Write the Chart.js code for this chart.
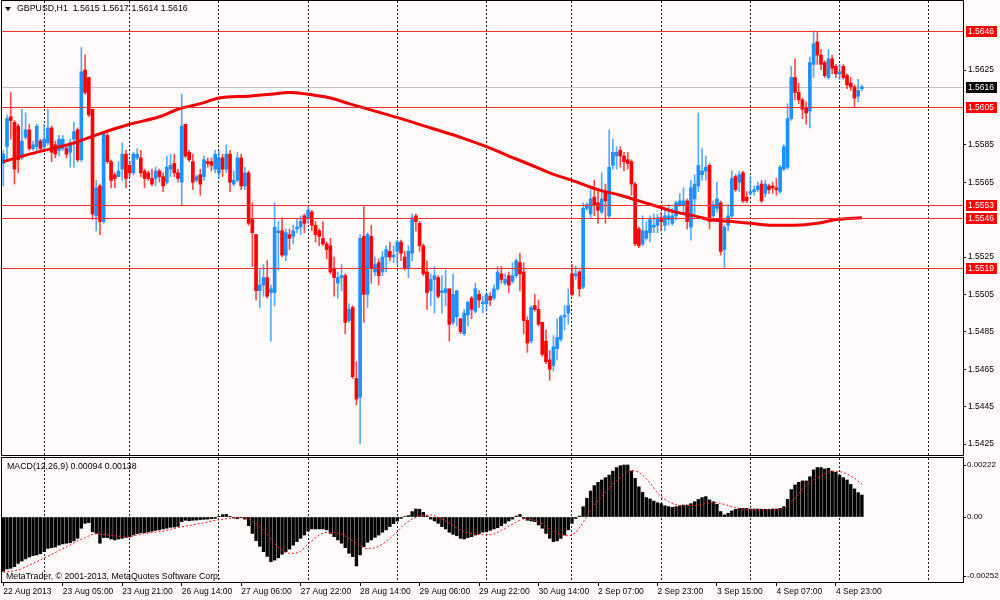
<!DOCTYPE html>
<html>
<head>
<meta charset="utf-8">
<title>GBPUSD,H1</title>
<script src="https://cdn.jsdelivr.net/npm/chart.js@4.4.1/dist/chart.umd.min.js"></script>
<style>
  html, body { margin: 0; padding: 0; background: #fffafa; }
  #pane1 { position: absolute; left: 0; top: 0; width: 1000px; height: 457px; }
  #pane2 { position: absolute; left: 0; top: 457px; width: 1000px; height: 143px; }
</style>
</head>
<body>
<div id="pane1"><canvas id="priceChart"></canvas></div>
<div id="pane2"><canvas id="macdChart"></canvas></div>
<script>
// --- Data (bar 0 = 22 Aug 2013 13:00, H1) ---
const opens = [
  1.5575,1.5584,1.5600,1.5597,1.5595,1.5578,1.5589,1.5593,1.5583,1.5584,1.5587,1.5584,
  1.5586,1.5594,1.5585,1.5582,1.5583,1.5583,1.5581,1.5588,1.5593,1.5577,1.5625,1.5621,
  1.5604,1.5547,1.5563,1.5544,1.5590,1.5576,1.5569,1.5568,1.5572,1.5580,1.5574,1.5570,
  1.5578,1.5578,1.5571,1.5570,1.5567,1.5567,1.5571,1.5568,1.5565,1.5572,1.5575,1.5570,
  1.5565,1.5596,1.5581,1.5576,1.5566,1.5569,1.5568,1.5576,1.5576,1.5572,1.5570,1.5578,
  1.5572,1.5580,1.5564,1.5566,1.5578,1.5563,1.5570,1.5545,1.5537,1.5507,1.5510,1.5514,
  1.5506,1.5506,1.5538,1.5539,1.5526,1.5537,1.5536,1.5540,1.5541,1.5547,1.5546,1.5549,
  1.5542,1.5539,1.5535,1.5532,1.5531,1.5519,1.5511,1.5514,1.5515,1.5491,1.5498,1.5460,
  1.5450,1.5536,1.5505,1.5536,1.5517,1.5522,1.5517,1.5525,1.5528,1.5525,1.5528,1.5533,
  1.5525,1.5519,1.5527,1.5547,1.5543,1.5531,1.5517,1.5507,1.5513,1.5514,1.5506,1.5506,
  1.5508,1.5490,1.5493,1.5492,1.5484,1.5494,1.5503,1.5496,1.5505,1.5500,1.5500,1.5504,
  1.5503,1.5508,1.5516,1.5511,1.5515,1.5512,1.5515,1.5522,1.5517,1.5491,1.5480,1.5499,
  1.5497,1.5490,1.5480,1.5470,1.5467,1.5476,1.5481,1.5493,1.5495,1.5516,1.5515,1.5517,
  1.5509,1.5551,1.5548,1.5557,1.5554,1.5549,1.5560,1.5547,1.5574,1.5579,1.5582,1.5579,
  1.5577,1.5576,1.5564,1.5540,1.5532,1.5535,1.5538,1.5541,1.5542,1.5546,1.5542,1.5545,
  1.5543,1.5547,1.5553,1.5553,1.5555,1.5541,1.5556,1.5563,1.5569,1.5571,1.5574,1.5547,
  1.5551,1.5554,1.5529,1.5542,1.5547,1.5568,1.5565,1.5570,1.5557,1.5559,1.5560,1.5561,
  1.5564,1.5559,1.5563,1.5563,1.5562,1.5560,1.5572,1.5573,1.5599,1.5621,1.5613,1.5609,
  1.5605,1.5603,1.5628,1.5640,1.5633,1.5629,1.5621,1.5631,1.5627,1.5623,1.5627,1.5622,
  1.5618,1.5616,1.5611,1.5615
];
const highs = [
  1.5582,1.5601,1.5613,1.5598,1.5596,1.5604,1.5602,1.5596,1.5587,1.5596,1.5588,1.5596,
  1.5604,1.5595,1.5587,1.5590,1.5590,1.5585,1.5588,1.5597,1.5594,1.5637,1.5633,1.5621,
  1.5604,1.5566,1.5564,1.5592,1.5591,1.5577,1.5570,1.5576,1.5586,1.5582,1.5576,1.5581,
  1.5583,1.5582,1.5572,1.5571,1.5572,1.5573,1.5572,1.5570,1.5579,1.5580,1.5580,1.5572,
  1.5612,1.5596,1.5582,1.5580,1.5569,1.5572,1.5579,1.5578,1.5578,1.5582,1.5582,1.5580,
  1.5585,1.5582,1.5571,1.5581,1.5580,1.5573,1.5571,1.5554,1.5537,1.5519,1.5521,1.5523,
  1.5510,1.5554,1.5544,1.5546,1.5540,1.5540,1.5542,1.5545,1.5547,1.5548,1.5552,1.5550,
  1.5544,1.5540,1.5544,1.5533,1.5535,1.5525,1.5517,1.5521,1.5516,1.5500,1.5499,1.5469,
  1.5537,1.5552,1.5538,1.5542,1.5525,1.5524,1.5528,1.5531,1.5533,1.5531,1.5534,1.5534,
  1.5528,1.5531,1.5548,1.5548,1.5544,1.5532,1.5523,1.5516,1.5520,1.5515,1.5515,1.5518,
  1.5508,1.5516,1.5507,1.5492,1.5497,1.5501,1.5504,1.5511,1.5507,1.5504,1.5506,1.5506,
  1.5510,1.5520,1.5520,1.5516,1.5517,1.5522,1.5524,1.5527,1.5522,1.5493,1.5499,1.5505,
  1.5502,1.5490,1.5486,1.5475,1.5483,1.5492,1.5494,1.5499,1.5508,1.5521,1.5520,1.5518,
  1.5554,1.5554,1.5561,1.5566,1.5561,1.5570,1.5564,1.5593,1.5588,1.5584,1.5584,1.5581,
  1.5581,1.5577,1.5565,1.5541,1.5547,1.5544,1.5547,1.5548,1.5548,1.5549,1.5550,1.5553,
  1.5551,1.5555,1.5559,1.5562,1.5556,1.5566,1.5569,1.5602,1.5583,1.5579,1.5575,1.5555,
  1.5565,1.5555,1.5542,1.5553,1.5571,1.5569,1.5571,1.5571,1.5560,1.5568,1.5563,1.5565,
  1.5566,1.5566,1.5564,1.5565,1.5567,1.5574,1.5585,1.5607,1.5627,1.5631,1.5618,1.5610,
  1.5608,1.5632,1.5646,1.5645,1.5636,1.5630,1.5636,1.5633,1.5628,1.5628,1.5628,1.5623,
  1.5621,1.5617,1.5620,1.5617
];
const lows = [
  1.5563,1.5576,1.5588,1.5564,1.5570,1.5577,1.5588,1.5582,1.5582,1.5582,1.5581,1.5582,
  1.5585,1.5576,1.5578,1.5579,1.5582,1.5578,1.5573,1.5573,1.5576,1.5576,1.5612,1.5600,
  1.5545,1.5539,1.5537,1.5543,1.5575,1.5562,1.5562,1.5568,1.5566,1.5562,1.5568,1.5569,
  1.5577,1.5568,1.5562,1.5566,1.5563,1.5563,1.5565,1.5560,1.5564,1.5568,1.5568,1.5565,
  1.5553,1.5578,1.5576,1.5561,1.5565,1.5558,1.5566,1.5573,1.5571,1.5570,1.5567,1.5568,
  1.5570,1.5560,1.5563,1.5565,1.5561,1.5561,1.5542,1.5520,1.5502,1.5498,1.5504,1.5503,
  1.5480,1.5499,1.5518,1.5525,1.5523,1.5529,1.5532,1.5538,1.5537,1.5538,1.5543,1.5539,
  1.5533,1.5531,1.5531,1.5524,1.5516,1.5504,1.5503,1.5507,1.5484,1.5490,1.5460,1.5446,
  1.5425,1.5490,1.5498,1.5511,1.5515,1.5510,1.5515,1.5517,1.5523,1.5522,1.5521,1.5523,
  1.5518,1.5514,1.5523,1.5539,1.5528,1.5515,1.5497,1.5499,1.5495,1.5503,1.5495,1.5499,
  1.5480,1.5489,1.5488,1.5484,1.5483,1.5488,1.5492,1.5495,1.5498,1.5495,1.5497,1.5499,
  1.5502,1.5507,1.5511,1.5510,1.5506,1.5511,1.5514,1.5507,1.5484,1.5474,1.5479,1.5496,
  1.5488,1.5472,1.5468,1.5459,1.5464,1.5470,1.5480,1.5486,1.5489,1.5504,1.5513,1.5504,
  1.5508,1.5550,1.5546,1.5547,1.5543,1.5548,1.5543,1.5546,1.5572,1.5572,1.5573,1.5571,
  1.5572,1.5558,1.5531,1.5530,1.5531,1.5534,1.5533,1.5538,1.5538,1.5539,1.5539,1.5542,
  1.5542,1.5545,1.5552,1.5548,1.5540,1.5534,1.5548,1.5560,1.5566,1.5566,1.5540,1.5544,
  1.5549,1.5526,1.5519,1.5539,1.5546,1.5560,1.5560,1.5554,1.5554,1.5558,1.5558,1.5560,
  1.5554,1.5557,1.5559,1.5559,1.5558,1.5559,1.5571,1.5572,1.5598,1.5609,1.5607,1.5599,
  1.5596,1.5594,1.5621,1.5628,1.5625,1.5621,1.5620,1.5623,1.5621,1.5620,1.5620,1.5615,
  1.5614,1.5605,1.5608,1.5614
];
const closes = [
  1.5580,1.5599,1.5598,1.5572,1.5577,1.5587,1.5593,1.5583,1.5585,1.5595,1.5583,1.5588,
  1.5594,1.5581,1.5580,1.5588,1.5588,1.5580,1.5586,1.5592,1.5577,1.5624,1.5613,1.5601,
  1.5548,1.5562,1.5544,1.5591,1.5576,1.5566,1.5567,1.5571,1.5580,1.5567,1.5570,1.5580,
  1.5580,1.5570,1.5567,1.5567,1.5564,1.5571,1.5568,1.5563,1.5573,1.5574,1.5570,1.5567,
  1.5595,1.5579,1.5577,1.5565,1.5568,1.5564,1.5577,1.5575,1.5574,1.5580,1.5578,1.5572,
  1.5580,1.5565,1.5566,1.5578,1.5563,1.5570,1.5543,1.5538,1.5507,1.5510,1.5514,1.5504,
  1.5508,1.5541,1.5539,1.5526,1.5538,1.5535,1.5539,1.5541,1.5544,1.5543,1.5550,1.5542,
  1.5537,1.5536,1.5532,1.5529,1.5517,1.5514,1.5514,1.5515,1.5490,1.5497,1.5461,1.5449,
  1.5535,1.5505,1.5537,1.5519,1.5521,1.5515,1.5525,1.5529,1.5525,1.5526,1.5533,1.5527,
  1.5519,1.5528,1.5546,1.5544,1.5531,1.5516,1.5506,1.5513,1.5515,1.5504,1.5507,1.5508,
  1.5489,1.5505,1.5507,1.5485,1.5495,1.5501,1.5497,1.5508,1.5502,1.5501,1.5505,1.5502,
  1.5508,1.5517,1.5513,1.5513,1.5510,1.5515,1.5523,1.5516,1.5491,1.5479,1.5498,1.5497,
  1.5489,1.5473,1.5469,1.5465,1.5477,1.5482,1.5493,1.5494,1.5499,1.5505,1.5516,1.5508,
  1.5551,1.5553,1.5556,1.5553,1.5550,1.5556,1.5555,1.5573,1.5581,1.5581,1.5579,1.5576,
  1.5575,1.5564,1.5532,1.5531,1.5539,1.5539,1.5545,1.5542,1.5546,1.5544,1.5547,1.5547,
  1.5547,1.5554,1.5555,1.5555,1.5544,1.5562,1.5564,1.5574,1.5571,1.5573,1.5544,1.5553,
  1.5556,1.5528,1.5541,1.5547,1.5567,1.5561,1.5569,1.5555,1.5555,1.5560,1.5561,1.5563,
  1.5555,1.5564,1.5561,1.5562,1.5561,1.5573,1.5584,1.5599,1.5621,1.5613,1.5609,1.5604,
  1.5602,1.5629,1.5639,1.5633,1.5628,1.5622,1.5631,1.5626,1.5623,1.5624,1.5621,1.5617,
  1.5616,1.5610,1.5614,1.5616
];

// red moving average, read at a set of bars
const maBars   = [0, 7, 19, 26, 34, 42, 47, 53, 58, 66, 72, 77, 82, 88, 93, 100, 107, 115, 123, 130,
                  136, 141, 147, 153, 160, 166, 171, 176, 181, 186, 190, 196, 201, 206, 213, 219, 224, 231];
const maValues = [1.5576, 1.5580, 1.5586, 1.5591, 1.5596, 1.5600, 1.5604, 1.5607, 1.5610, 1.5611,
                  1.5612, 1.5613, 1.5612, 1.5610, 1.5607, 1.5603, 1.5599, 1.5594, 1.5589, 1.5584,
                  1.5579, 1.5575, 1.5570, 1.5566, 1.5561, 1.5558, 1.5555, 1.5552, 1.5549, 1.5547,
                  1.5545, 1.5544, 1.5543, 1.5542, 1.5542, 1.5543, 1.5545, 1.5546];

// MACD(12,26,9) main (histogram), one per bar
const macdHist = [
  -0.00232,-0.00222,-0.00219,-0.00212,-0.00198,-0.00188,-0.00179,-0.00171,-0.00165,-0.00162,-0.00157,-0.00148,
  -0.00134,-0.00131,-0.00128,-0.00120,-0.00115,-0.00112,-0.00110,-0.00102,-0.00091,-0.00048,-0.00027,-0.00024,
  -0.00063,-0.00070,-0.00112,-0.00088,-0.00088,-0.00094,-0.00098,-0.00094,-0.00091,-0.00087,-0.00085,-0.00077,
  -0.00071,-0.00068,-0.00067,-0.00064,-0.00061,-0.00057,-0.00055,-0.00051,-0.00048,-0.00044,-0.00043,-0.00040,
  -0.00020,-0.00014,-0.00016,-0.00014,-0.00013,-0.00011,-0.00010,-0.00009,-0.00007,-0.00006,0.00003,0.00010,
  0.00011,0.00001,-0.00004,-0.00007,-0.00003,-0.00009,-0.00037,-0.00070,-0.00101,-0.00125,-0.00148,-0.00168,
  -0.00191,-0.00184,-0.00174,-0.00159,-0.00148,-0.00137,-0.00120,-0.00105,-0.00091,-0.00077,-0.00060,-0.00051,
  -0.00051,-0.00051,-0.00051,-0.00055,-0.00070,-0.00084,-0.00098,-0.00112,-0.00131,-0.00155,-0.00169,-0.00209,
  -0.00162,-0.00127,-0.00108,-0.00098,-0.00087,-0.00077,-0.00065,-0.00055,-0.00041,-0.00028,-0.00017,-0.00006,
  0.00002,0.00006,0.00023,0.00034,0.00033,0.00020,0.00004,-0.00009,-0.00017,-0.00027,-0.00041,-0.00051,
  -0.00065,-0.00074,-0.00080,-0.00091,-0.00094,-0.00088,-0.00084,-0.00077,-0.00071,-0.00065,-0.00063,-0.00057,
  -0.00051,-0.00046,-0.00037,-0.00027,-0.00017,-0.00009,0.00004,0.00011,-0.00006,-0.00014,-0.00017,-0.00020,
  -0.00034,-0.00048,-0.00070,-0.00091,-0.00105,-0.00102,-0.00091,-0.00077,-0.00055,-0.00027,-0.00006,0.00004,
  0.00044,0.00080,0.00111,0.00134,0.00148,0.00158,0.00168,0.00179,0.00196,0.00211,0.00219,0.00222,
  0.00222,0.00196,0.00165,0.00129,0.00105,0.00083,0.00077,0.00068,0.00061,0.00057,0.00048,0.00044,
  0.00041,0.00044,0.00048,0.00051,0.00051,0.00057,0.00065,0.00075,0.00083,0.00087,0.00073,0.00065,
  0.00054,0.00023,0.00009,0.00016,0.00026,0.00033,0.00037,0.00037,0.00037,0.00034,0.00034,0.00034,
  0.00033,0.00033,0.00033,0.00034,0.00034,0.00037,0.00044,0.00075,0.00117,0.00137,0.00148,0.00154,
  0.00154,0.00172,0.00201,0.00211,0.00211,0.00205,0.00208,0.00196,0.00191,0.00179,0.00168,0.00158,
  0.00139,0.00120,0.00104,0.00094
];
// MACD signal line (dotted), read at a set of bars
const sigBars   = [0, 4, 8, 13, 17, 22, 25, 29, 33, 38, 43, 47, 53, 58, 64, 67, 71, 74, 77, 80, 82, 87,
                   90, 94, 98, 101, 105, 108, 112, 115, 119, 123, 127, 131, 134, 138, 140, 144, 148, 152,
                   154, 156, 158, 161, 164, 167, 169, 171, 174, 176, 179, 183, 187, 191, 194, 197, 201,
                   206, 210, 213, 216, 220, 223, 226, 229, 231];
const sigValues = [-0.00236,-0.00226,-0.00198,-0.00160,-0.00127,-0.00088,-0.00072,-0.00078,-0.00085,-0.00071,
                   -0.00060,-0.00045,-0.00028,-0.00012,-0.00003,-0.00018,-0.00075,-0.00130,-0.00155,-0.00146,
                   -0.00115,-0.00066,-0.00068,-0.00102,-0.00135,-0.00125,-0.00078,-0.00030,0.00004,0.00008,
                   -0.00017,-0.00055,-0.00074,-0.00076,-0.00057,-0.00022,-0.00008,-0.00020,-0.00062,-0.00080,
                   -0.00066,-0.00022,0.00028,0.00088,0.00140,0.00180,0.00199,0.00190,0.00146,0.00103,
                   0.00066,0.00048,0.00051,0.00062,0.00054,0.00040,0.00030,0.00030,0.00038,0.00082,
                   0.00135,0.00175,0.00195,0.00190,0.00165,0.00140];

// axis labels and marks
const timeLabels = ['22 Aug 2013', '23 Aug 05:00', '23 Aug 21:00', '26 Aug 14:00', '27 Aug 06:00',
                    '27 Aug 22:00', '28 Aug 14:00', '29 Aug 06:00', '29 Aug 22:00', '30 Aug 14:00',
                    '2 Sep 07:00', '2 Sep 23:00', '3 Sep 15:00', '4 Sep 07:00', '4 Sep 23:00'];
const labelBars  = [0, 16, 32, 48, 64, 80, 96, 112, 128, 144, 160, 176, 192, 208, 224];
const daySeps    = [11, 34, 58, 82, 106, 130, 153, 177, 201, 225, 249];
const priceTicks = [1.5625, 1.5585, 1.5565, 1.5525, 1.5505, 1.5485, 1.5465, 1.5445, 1.5425];
const macdTicks  = [0.00222, 0, -0.00252];
const levels     = [1.5646, 1.5605, 1.5553, 1.5546, 1.5519];
const bidPrice   = 1.5616;
const header     = 'GBPUSD,H1  1.5615 1.5617 1.5614 1.5616';
const macdTitle  = 'MACD(12,26,9) 0.00094 0.00138';

// --- Look ---
const UP = 'rgb(30,144,255)', DOWN = 'rgb(255,0,0)';
const UP_WICK = 'rgba(30,144,255,0.75)', DOWN_WICK = 'rgba(255,0,0,0.7)';
const FONT = '"Liberation Sans", Arial, sans-serif';
const TEXT_FONT = '8.8px ' + FONT;
Chart.defaults.font.family = FONT;
Chart.defaults.font.size = 8.5;
Chart.defaults.color = '#000';

const xMin = -0.35, xMax = 258.2;
const isUp = closes.map((c, i) => c >= opens[i]);

// fixed axis sizes, no label overhang padding (keeps panes flush like MT4)
const fixWidth = w => s => { s.width = w; s.paddingTop = 0; s.paddingBottom = 0; };
const fixHeight = h => s => { s.height = h; s.paddingLeft = 0; s.paddingRight = 0; };

const frame = {
    id: 'frame',
    afterDraw(chart) {
        const { ctx, chartArea: a } = chart;
        ctx.save();
        ctx.strokeStyle = '#000';
        ctx.lineWidth = 1;
        ctx.strokeRect(a.left - 0.5, a.top - 0.5, a.right - a.left + 1, a.bottom - a.top + 1);
        ctx.restore();
    }
};

const priceExtras = {
    id: 'priceExtras',
    beforeDatasetsDraw(chart) {
        const { ctx, chartArea: a, scales: { y } } = chart;
        const py = Math.round(y.getPixelForValue(bidPrice)) + 0.5;
        ctx.save();
        ctx.strokeStyle = '#c4c4c4';
        ctx.lineWidth = 1;
        ctx.beginPath(); ctx.moveTo(a.left, py); ctx.lineTo(a.right, py); ctx.stroke();
        ctx.restore();
    },
    afterDatasetsDraw(chart) {
        const { ctx, chartArea: a, scales: { y } } = chart;
        ctx.save();
        ctx.strokeStyle = 'rgb(255,45,45)';
        ctx.lineWidth = 1;
        levels.forEach(v => {
            const py = Math.round(y.getPixelForValue(v)) + 0.5;
            ctx.beginPath(); ctx.moveTo(a.left, py); ctx.lineTo(a.right, py); ctx.stroke();
        });
        ctx.restore();
    },
    afterDraw(chart) {
        const { ctx, chartArea: a, scales: { y } } = chart;
        ctx.save();
        ctx.font = '8.5px ' + FONT;
        ctx.textBaseline = 'middle';
        const box = (v, bg) => {
            const py = Math.round(y.getPixelForValue(v));
            ctx.fillStyle = bg;
            ctx.fillRect(a.right + 3, py - 5, 31, 11);
            ctx.fillStyle = '#fff';
            ctx.fillText(v.toFixed(4), a.right + 5, py + 0.5);
        };
        levels.forEach(v => box(v, '#ff0000'));
        box(bidPrice, '#000');
        // header
        ctx.font = TEXT_FONT;
        ctx.fillStyle = '#000';
        ctx.beginPath(); ctx.moveTo(5, 7); ctx.lineTo(11, 7); ctx.lineTo(8, 11); ctx.closePath(); ctx.fill();
        ctx.fillText(header, 17, 9);
        ctx.restore();
    }
};

const macdExtras = {
    id: 'macdExtras',
    afterDraw(chart) {
        const { ctx } = chart;
        ctx.save();
        ctx.font = TEXT_FONT;
        ctx.textBaseline = 'middle';
        ctx.fillStyle = '#000';
        ctx.fillText(macdTitle, 7, 10);
        ctx.fillText('MetaTrader, \u00a9 2001-2013, MetaQuotes Software Corp.', 6, 120);
        ctx.restore();
    }
};

const sepAxis = {
    type: 'linear', min: xMin, max: xMax, offset: false,
    afterBuildTicks: s => { s.ticks = daySeps.map(v => ({ value: v })); },
    afterFit: fixHeight(0),
    ticks: { display: false },
    grid: { color: '#202020', lineWidth: 1, drawTicks: false, offset: false },
    border: { display: false, dash: [2, 2] }
};

// --- Price pane ---
new Chart(document.getElementById('priceChart'), {
    type: 'bar',
    data: {
        datasets: [
            {
                type: 'line',
                data: maBars.map((b, i) => ({ x: b, y: maValues[i] })),
                borderColor: '#f00000',
                borderWidth: 3,
                pointRadius: 0,
                tension: 0.4,
                cubicInterpolationMode: 'monotone',
                order: 0
            },
            {
                data: closes.map((c, i) => ({ x: i, y: [opens[i], c] })),
                backgroundColor: isUp.map(u => u ? UP : DOWN),
                barThickness: 3,
                minBarLength: 1,
                grouped: false,
                order: 1
            },
            {
                data: highs.map((h, i) => ({ x: i, y: [lows[i], h] })),
                backgroundColor: isUp.map(u => u ? UP_WICK : DOWN_WICK),
                barThickness: 1,
                grouped: false,
                order: 2
            }
        ]
    },
    options: {
        responsive: true,
        maintainAspectRatio: false,
        animation: false,
        layout: { padding: { left: 2, top: 1, right: 0, bottom: 2 } },
        plugins: { legend: { display: false }, tooltip: { enabled: false } },
        scales: {
            x: sepAxis,
            y: {
                type: 'linear',
                position: 'right',
                min: 1.541912,
                max: 1.566190,
                afterBuildTicks: s => { s.ticks = priceTicks.map(v => ({ value: v })); },
                afterFit: fixWidth(37),
                ticks: { padding: 2, callback: v => v.toFixed(4) },
                grid: { drawOnChartArea: false, tickLength: 3, color: '#000' },
                border: { display: false }
            }
        }
    },
    plugins: [priceExtras, frame]
});

// --- MACD pane ---
new Chart(document.getElementById('macdChart'), {
    type: 'bar',
    data: {
        datasets: [
            {
                type: 'line',
                data: sigBars.map((b, i) => ({ x: b, y: sigValues[i] })),
                borderColor: '#ff1a1a',
                borderWidth: 1,
                borderDash: [2, 2],
                pointRadius: 0,
                tension: 0.4,
                cubicInterpolationMode: 'monotone',
                order: 0
            },
            {
                data: macdHist.map((v, i) => ({ x: i, y: v })),
                backgroundColor: '#000',
                barThickness: 2.7,
                grouped: false,
                order: 1
            }
        ]
    },
    options: {
        responsive: true,
        maintainAspectRatio: false,
        animation: false,
        layout: { padding: { left: 2, top: 1, right: 0, bottom: 0 } },
        plugins: { legend: { display: false }, tooltip: { enabled: false } },
        scales: {
            x: sepAxis,
            x2: {
                type: 'linear', position: 'bottom', min: xMin, max: xMax, offset: false,
                afterBuildTicks: s => { s.ticks = labelBars.map(v => ({ value: v })); },
                afterFit: fixHeight(18),
                ticks: {
                    align: 'start', autoSkip: false, maxRotation: 0, padding: 1,
                    callback: (v, i) => timeLabels[i]
                },
                grid: { drawOnChartArea: false, tickLength: 4, color: '#000', offset: false },
                border: { display: false }
            },
            y: {
                type: 'linear',
                position: 'right',
                min: -0.002775,
                max: 0.002519,
                afterBuildTicks: s => { s.ticks = macdTicks.map(v => ({ value: v })); },
                afterFit: fixWidth(37),
                ticks: { padding: 1, font: { size: 8 }, callback: v => v === 0 ? '0.00' : v.toFixed(5) },
                grid: { drawOnChartArea: false, tickLength: 3, color: '#000' },
                border: { display: false }
            }
        }
    },
    plugins: [macdExtras, frame]
});
</script>
</body>
</html>
